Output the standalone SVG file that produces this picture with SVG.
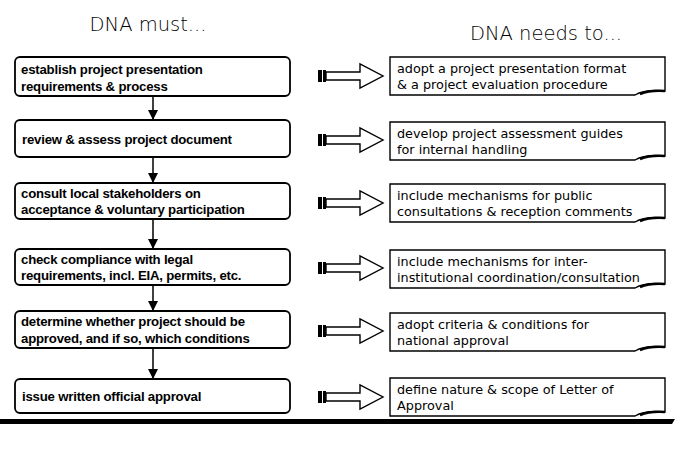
<svg xmlns="http://www.w3.org/2000/svg" width="683" height="461" viewBox="0 0 683 461">
<defs>
<style>
.hd{font-family:"DejaVu Sans","Liberation Sans",sans-serif;font-size:19.5px;font-weight:300;fill:#000}
.lb{fill:#fff;stroke:#000;stroke-width:1.8}
.lt{font-family:"Liberation Sans",Arial,sans-serif;font-size:13.2px;font-weight:bold;fill:#000;letter-spacing:-0.2px}
.rb{fill:#fff;stroke:#000;stroke-width:1.4}
.rt{font-family:"DejaVu Sans",sans-serif;font-size:12.8px;fill:#000}
.curl{fill:none;stroke:#000;stroke-width:2.6}
.con{stroke:#000;stroke-width:1.5;fill:none}
.ha{fill:#fff;stroke:#000;stroke-width:1.4}
</style>
<marker id="ah" markerWidth="10" markerHeight="10" refX="9" refY="5" orient="auto" markerUnits="userSpaceOnUse">
<path d="M0,0 L10,5 L0,10 Z" fill="#000"/>
</marker>
<g id="harrow">
<rect x="318" y="-6" width="4" height="12" fill="#000"/>
<rect x="323" y="-6" width="3" height="12" fill="#000"/>
<path class="ha" d="M326,-4 H360 V-12 L383,0 L360,12 V4 H326 Z"/>
</g>
<path id="doc" d="M0,0 H275 V34 Q255,32 245,38 H0 Z"/>
</defs>
<rect width="683" height="461" fill="#fff"/>
<text class="hd" x="148" y="31" text-anchor="middle">DNA must...</text>
<text class="hd" x="546" y="40" text-anchor="middle">DNA needs to...</text>

<g id="connectors">
<line class="con" x1="153" y1="96" x2="153" y2="119" marker-end="url(#ah)"/>
<line class="con" x1="153" y1="157" x2="153" y2="182" marker-end="url(#ah)"/>
<line class="con" x1="153" y1="219" x2="153" y2="248" marker-end="url(#ah)"/>
<line class="con" x1="153" y1="285" x2="153" y2="310" marker-end="url(#ah)"/>
<line class="con" x1="153" y1="348" x2="153" y2="378" marker-end="url(#ah)"/>
<use href="#harrow" y="76"/>
<use href="#harrow" y="140"/>
<use href="#harrow" y="203"/>
<use href="#harrow" y="268"/>
<use href="#harrow" y="331"/>
<use href="#harrow" y="397"/>
</g>

<g id="l1"><rect class="lb" x="15" y="57" width="275" height="39" rx="5"/>
<text class="lt" x="21" y="74">establish project presentation</text>
<text class="lt" x="21" y="91">requirements &amp; process</text></g>
<g id="l2"><rect class="lb" x="15" y="120" width="275" height="37" rx="5"/>
<text class="lt" x="22" y="144">review &amp; assess project document</text></g>
<g id="l3"><rect class="lb" x="15" y="183" width="275" height="36" rx="5"/>
<text class="lt" x="21" y="198">consult local stakeholders on</text>
<text class="lt" x="21" y="214">acceptance &amp; voluntary participation</text></g>
<g id="l4"><rect class="lb" x="15" y="249" width="275" height="36" rx="5"/>
<text class="lt" x="21" y="264">check compliance with legal</text>
<text class="lt" x="21" y="280">requirements, incl. EIA, permits, etc.</text></g>
<g id="l5"><rect class="lb" x="15" y="311" width="275" height="37" rx="5"/>
<text class="lt" x="21" y="326">determine whether project should be</text>
<text class="lt" x="21" y="343">approved, and if so, which conditions</text></g>
<g id="l6"><rect class="lb" x="15" y="379" width="275" height="34" rx="5"/>
<text class="lt" x="22" y="401">issue written official approval</text></g>

<g id="r1"><use href="#doc" class="rb" x="390" y="57"/><path class="curl" d="M640,94 Q650,90 665,91"/>
<text class="rt" x="397" y="73">adopt a project presentation format</text>
<text class="rt" x="397" y="89">&amp; a project evaluation procedure</text></g>
<g id="r2"><use href="#doc" class="rb" x="390" y="122"/><path class="curl" d="M640,159 Q650,155 665,156"/>
<text class="rt" x="397" y="138">develop project assessment guides</text>
<text class="rt" x="397" y="154">for internal handling</text></g>
<g id="r3"><use href="#doc" class="rb" x="390" y="184"/><path class="curl" d="M640,221 Q650,217 665,218"/>
<text class="rt" x="397" y="200">include mechanisms for public</text>
<text class="rt" x="397" y="216">consultations &amp; reception comments</text></g>
<g id="r4"><use href="#doc" class="rb" x="390" y="250"/><path class="curl" d="M640,287 Q650,283 665,284"/>
<text class="rt" x="397" y="266">include mechanisms for inter-</text>
<text class="rt" x="397" y="282">institutional coordination/consultation</text></g>
<g id="r5"><use href="#doc" class="rb" x="390" y="313"/><path class="curl" d="M640,350 Q650,346 665,347"/>
<text class="rt" x="397" y="329">adopt criteria &amp; conditions for</text>
<text class="rt" x="397" y="345">national approval</text></g>
<g id="r6"><use href="#doc" class="rb" x="390" y="378"/><path class="curl" d="M640,415 Q650,411 665,412"/>
<text class="rt" x="397" y="394">define nature &amp; scope of Letter of</text>
<text class="rt" x="397" y="410">Approval</text></g>

<path d="M0,419 H675 L672,424 H0 Z" fill="#000"/>
</svg>
